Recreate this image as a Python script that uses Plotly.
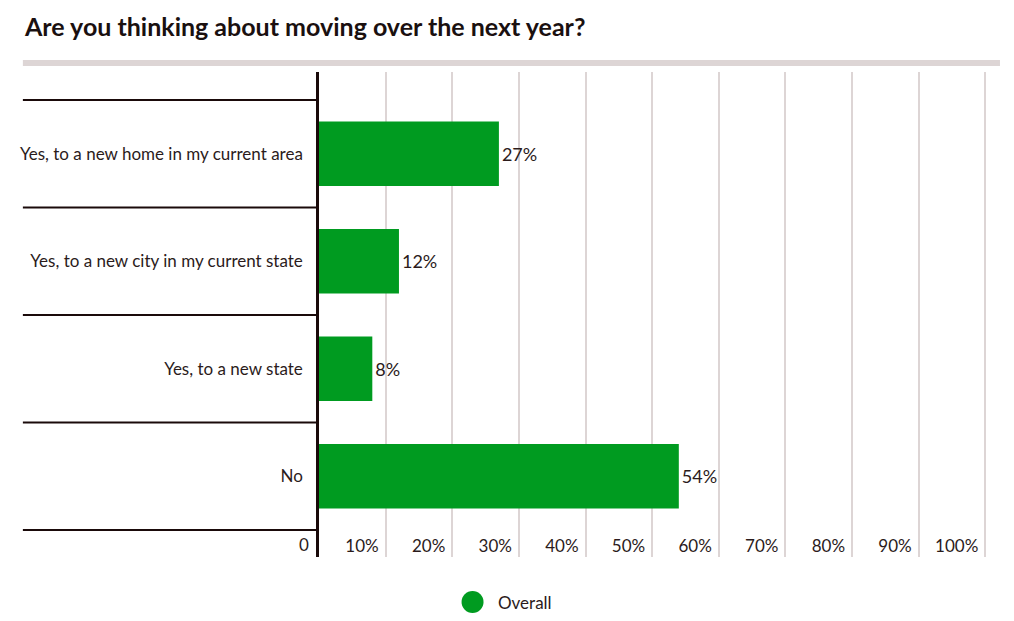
import plotly.graph_objects as go

categories = [
    "Yes, to a new home in my current area",
    "Yes, to a new city in my current state",
    "Yes, to a new state",
    "No",
]
values = [27, 12, 8, 54]
tick_vals = [0, 10, 20, 30, 40, 50, 60, 70, 80, 90, 100]
tick_text = ["0", "10%", "20%", "30%", "40%", "50%", "60%", "70%", "80%", "90%", "100%"]
series_name = "Overall"

GREEN = "#009b20"
INK = "#2b1b1b"
GRID = "#ddd5d5"

# page body adds an 8px offset, so the figure is sized to fit the window
W, H = 1006, 613
ML, MR, MT, MB = 309, 22, 64, 64
PW = W - ML - MR
PH = H - MT - MB

ypos = list(range(len(categories)))

fig = go.Figure()

fig.add_trace(go.Bar(
    x=values,
    y=ypos,
    orientation="h",
    width=0.6,
    marker=dict(color=GREEN, line=dict(width=0)),
    text=values,
    texttemplate="%{x}%",
    textposition="outside",
    textfont=dict(size=18, color=INK, family="Lato"),
    cliponaxis=False,
    name=series_name,
    showlegend=False,
    hoverinfo="skip",
))

left_edge = -(ML - 12) / PW

# category separators in the label area
shapes = []
for i in range(len(categories) + 1):
    shapes.append(dict(
        type="line", xref="paper", yref="y",
        x0=left_edge, x1=0, y0=i - 0.5, y1=i - 0.5,
        line=dict(color="#1a0a0a", width=2),
        layer="above",
    ))

# grey rule under the title
shapes.append(dict(
    type="rect", xref="paper", yref="paper",
    x0=left_edge, x1=(992 - ML) / PW, y0=1 + 6 / PH, y1=1 + 12 / PH,
    fillcolor=GRID, line=dict(width=0),
))

# legend marker
legend_y = -(594 - (H - MB)) / PH
shapes.append(dict(
    type="circle", xref="paper", yref="paper",
    xsizemode="pixel", ysizemode="pixel",
    xanchor=(463 - ML) / PW, yanchor=legend_y,
    x0=-11, x1=11, y0=-11, y1=11,
    fillcolor=GREEN, line=dict(width=0),
))

fig.update_layout(
    width=W,
    height=H,
    paper_bgcolor="white",
    plot_bgcolor="white",
    font=dict(family="Lato", size=17, color=INK),
    margin=dict(l=ML, r=MR, t=MT, b=MB),
    title=dict(
        text="Are you thinking about moving over the next year?",
        font=dict(family="Lato", size=25, color="#1a1010", weight="bold"),
        xref="container", yref="container",
        x=17 / W, y=1 - 19 / H,
        xanchor="left", yanchor="middle",
    ),
    xaxis=dict(
        range=[0, 101],
        tickvals=tick_vals,
        ticktext=tick_text,
        ticklabelposition="inside left",
        ticklabelshift=-7,
        ticklabelstandoff=-4,
        showgrid=True,
        gridcolor=GRID,
        gridwidth=1.5,
        zeroline=False,
        showline=False,
        ticks="",
        tickfont=dict(size=17, color=INK),
        fixedrange=True,
    ),
    yaxis=dict(
        range=[3.75, -0.76],
        tickvals=ypos,
        ticktext=categories,
        showgrid=False,
        zeroline=False,
        showline=True,
        linecolor="#1a0a0a",
        linewidth=2.5,
        ticks="",
        ticklabelstandoff=10,
        tickfont=dict(size=17, color=INK),
        fixedrange=True,
    ),
    shapes=shapes,
    annotations=[
        dict(
            text=series_name, xref="paper", yref="paper",
            x=(487 - ML) / PW, y=legend_y,
            xanchor="left", yanchor="middle",
            showarrow=False, font=dict(size=17, color=INK),
        ),
        # the zero label sits left of the axis line, outside the plot area
        dict(
            text=tick_text[0], xref="x", yref="paper",
            x=tick_vals[0], y=0, xshift=-8, yshift=0,
            xanchor="right", yanchor="bottom",
            showarrow=False, font=dict(size=17, color=INK),
        ),
    ],
    showlegend=False,
)

fig.write_html("out.html")
